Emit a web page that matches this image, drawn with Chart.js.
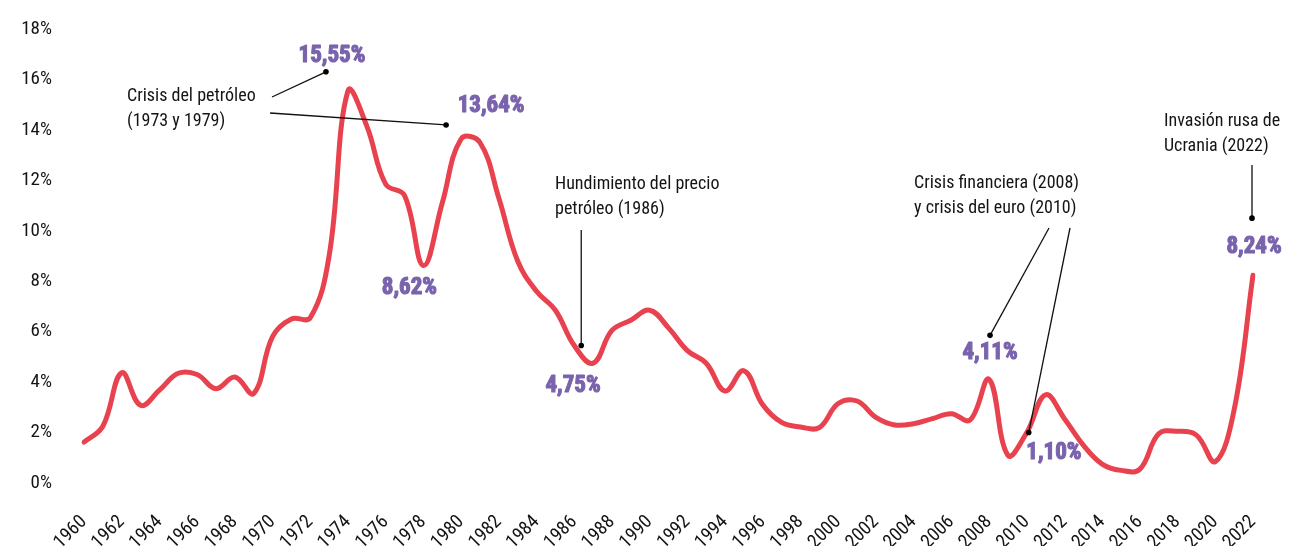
<!DOCTYPE html>
<html lang="es">
<head>
<meta charset="utf-8">
<title>Inflación 1960-2022</title>
<script src="https://cdn.jsdelivr.net/npm/chart.js@4.4.1/dist/chart.umd.min.js"></script>
<style>
  html, body { margin: 0; padding: 0; background: #ffffff; }
  #wrap { position: relative; width: 1291px; height: 546px; }
</style>
</head>
<body>
<div id="wrap"><canvas id="chart"></canvas></div>
<script>
// Años (eje X)
const years = [
  1960, 1961, 1962, 1963, 1964, 1965, 1966, 1967, 1968, 1969,
  1970, 1971, 1972, 1973, 1974, 1975, 1976, 1977, 1978, 1979,
  1980, 1981, 1982, 1983, 1984, 1985, 1986, 1987, 1988, 1989,
  1990, 1991, 1992, 1993, 1994, 1995, 1996, 1997, 1998, 1999,
  2000, 2001, 2002, 2003, 2004, 2005, 2006, 2007, 2008, 2009,
  2010, 2011, 2012, 2013, 2014, 2015, 2016, 2017, 2018, 2019,
  2020, 2021, 2022
];

// Inflación anual (%)
const inflation = [
  1.62, 2.25, 4.37, 3.08, 3.68, 4.35, 4.30, 3.74, 4.20, 3.55,
  5.80, 6.50, 6.55, 9.00, 15.55, 14.15, 11.85, 11.40, 8.62, 11.10,
  13.64, 13.50, 11.30, 8.80, 7.60, 6.85, 5.45, 4.75, 6.05, 6.45,
  6.85, 6.15, 5.25, 4.75, 3.65, 4.45, 3.10, 2.40, 2.22, 2.20,
  3.15, 3.25, 2.60, 2.30, 2.35, 2.55, 2.75, 2.50, 4.11, 1.10,
  2.00, 3.50, 2.55, 1.50, 0.75, 0.50, 0.55, 1.95, 2.05, 1.90,
  0.85, 2.90, 8.24
];

// Marcas del eje Y (%)
const yTicks = [0, 2, 4, 6, 8, 10, 12, 14, 16, 18];

// Valores destacados: año del dato y desplazamiento de la etiqueta (px)
const highlightYears = [1974, 1980, 1978, 1987, 2008, 2009, 2022];
const highlightOffsets = [[-16, -35], [30, -33], [-14, 23], [-20, 23], [1, -26], [46, -2], [1, -28]];

// Notas explicativas
const notes = [
  { lines: ['Crisis del petróleo', '(1973 y 1979)'], x: 127, y: 96,
    leaders: [ { from: [272, 97], year: 1974, dx: -22, dy: -19 },
               { from: [270, 113], year: 1980, dx: -15, dy: -14 } ] },
  { lines: ['Hundimiento del precio', 'petróleo (1986)'], x: 555, y: 184,
    leaders: [ { from: [581, 230], year: 1986, dx: 7, dy: 0, vertical: true } ] },
  { lines: ['Crisis financiera (2008)', 'y crisis del euro (2010)'], x: 914, y: 183,
    leaders: [ { from: [1049, 228], year: 2008, dx: 1, dy: -44 },
               { from: [1070, 228], year: 2010, dx: 2, dy: 0 } ] },
  { lines: ['Invasión rusa de', 'Ucrania (2022)'], x: 1164, y: 121,
    leaders: [ { from: [1252, 165], year: 2022, dx: -1, dy: -57, vertical: true } ] }
];

const FONT = "'Roboto Condensed', 'Roboto', sans-serif";
const LINE_COLOR = '#e8424f';
const VALUE_COLOR = '#7a63ad';
const TEXT_COLOR = '#141414';

function fmtPct(v) {
  return v.toFixed(2).replace('.', ',') + '%';
}

const notesPlugin = {
  id: 'notes',
  afterDatasetsDraw(chart) {
    const ctx = chart.ctx;
    const xs = chart.scales.x;
    const ys = chart.scales.y;
    const px = (year) => xs.getPixelForValue(years.indexOf(year));
    const py = (year) => ys.getPixelForValue(inflation[years.indexOf(year)]);
    ctx.save();

    // textos y líneas guía
    ctx.font = `400 18px ${FONT}`;
    ctx.fillStyle = TEXT_COLOR;
    ctx.textAlign = 'left';
    ctx.textBaseline = 'middle';
    notes.forEach(n => {
      n.lines.forEach((t, i) => ctx.fillText(t, n.x, n.y + i * 25));
      n.leaders.forEach(l => {
        const tx = px(l.year) + l.dx;
        const ty = py(l.year) + l.dy;
        const fx = l.vertical ? tx : l.from[0];
        ctx.strokeStyle = '#111';
        ctx.lineWidth = 1.3;
        ctx.beginPath();
        ctx.moveTo(fx, l.from[1]);
        ctx.lineTo(tx, ty);
        ctx.stroke();
        ctx.fillStyle = '#000';
        ctx.beginPath();
        ctx.arc(tx, ty, 2.8, 0, Math.PI * 2);
        ctx.fill();
        ctx.fillStyle = TEXT_COLOR;
      });
    });

    // valores destacados
    ctx.font = `700 23px ${FONT}`;
    ctx.fillStyle = VALUE_COLOR;
    ctx.strokeStyle = VALUE_COLOR;
    ctx.lineWidth = 1.1;
    ctx.lineJoin = 'round';
    ctx.textAlign = 'center';
    highlightYears.forEach((yr, i) => {
      const v = inflation[years.indexOf(yr)];
      const [ox, oy] = highlightOffsets[i];
      const t = fmtPct(v);
      ctx.fillText(t, px(yr) + ox, py(yr) + oy);
      ctx.strokeText(t, px(yr) + ox, py(yr) + oy);
    });
    ctx.restore();
  }
};

new Chart(document.getElementById('chart'), {
  type: 'line',
  data: {
    labels: years.map(String),
    datasets: [{
      data: inflation,
      borderColor: LINE_COLOR,
      borderWidth: 5,
      borderCapStyle: 'round',
      borderJoinStyle: 'round',
      tension: 0.4,
      pointRadius: 0,
      fill: false
    }]
  },
  options: {
    responsive: true,
    maintainAspectRatio: false,
    animation: false,
    layout: { padding: { top: 29, right: 38, bottom: 0, left: 0 } },
    plugins: {
      legend: { display: false },
      tooltip: { enabled: false }
    },
    scales: {
      x: {
        grid: { display: false, drawTicks: false },
        border: { display: false },
        ticks: {
          autoSkip: false,
          maxRotation: 45,
          minRotation: 45,
          padding: 28,
          color: TEXT_COLOR,
          font: { family: FONT, size: 19 },
          callback: (val, i) => (i % 2 === 0 ? years[i] : '')
        },
        afterFit: (s) => {
          s.height = 63;
          s.paddingLeft = 0;
          s.paddingRight = 0;
        }
      },
      y: {
        min: 0,
        max: 18,
        grid: { display: false, drawTicks: false },
        border: { display: false },
        afterBuildTicks: (s) => { s.ticks = yTicks.map(v => ({ value: v })); },
        ticks: {
          padding: 32,
          color: TEXT_COLOR,
          font: { family: FONT, size: 19 },
          callback: (v) => v + '%'
        },
        afterFit: (s) => {
          s.width = 84;
          s.paddingTop = 0;
          s.paddingBottom = 0;
        }
      }
    }
  },
  plugins: [notesPlugin]
});
</script>
</body>
</html>
